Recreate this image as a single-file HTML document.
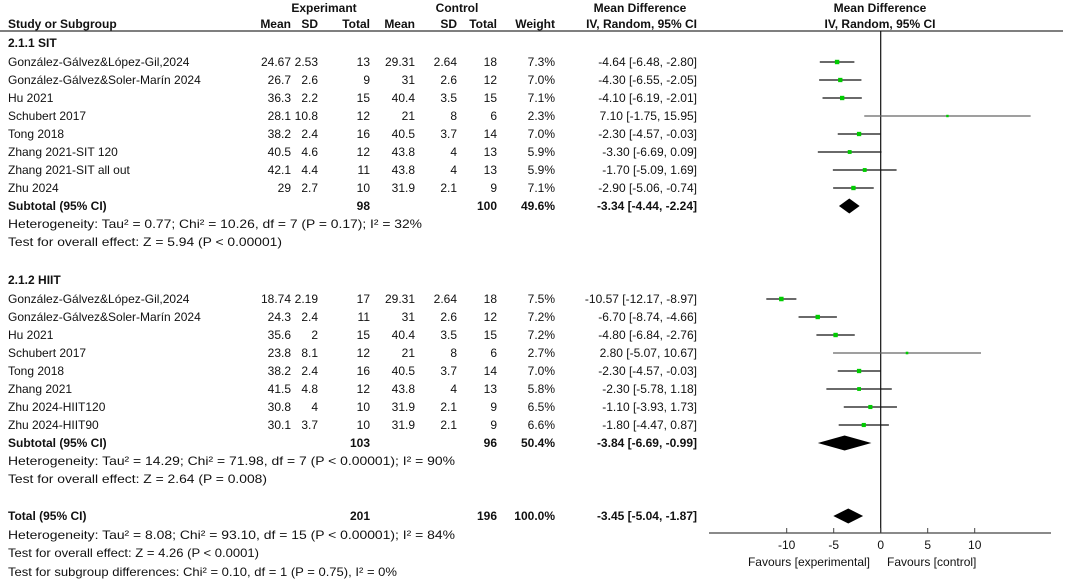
<!DOCTYPE html>
<html><head><meta charset="utf-8"><style>
html,body{margin:0;padding:0;background:#fff}
svg{display:block;font-family:"Liberation Sans",Arial,sans-serif;font-size:12px;fill:#111}
.b{font-weight:bold}
</style></head><body>
<svg id="c" width="1065" height="582" viewBox="0 0 1065 582"></svg>
<script>
const studies1=["González-Gálvez&López-Gil,2024","González-Gálvez&Soler-Marín 2024","Hu 2021","Schubert 2017","Tong 2018","Zhang 2021-SIT 120","Zhang 2021-SIT all out","Zhu 2024"];
const eMean1=["24.67","26.7","36.3","28.1","38.2","40.5","42.1","29"];
const eSD1=["2.53","2.6","2.2","10.8","2.4","4.6","4.4","2.7"];
const eN1=[13,9,15,12,16,12,11,10];
const cMean1=["29.31","31","40.4","21","40.5","43.8","43.8","31.9"];
const cSD1=["2.64","2.6","3.5","8","3.7","4","4","2.1"];
const cN1=[18,12,15,6,14,13,13,9];
const w1=[7.3,7.0,7.1,2.3,7.0,5.9,5.9,7.1];
const md1=[-4.64,-4.30,-4.10,7.10,-2.30,-3.30,-1.70,-2.90];
const lo1=[-6.48,-6.55,-6.19,-1.75,-4.57,-6.69,-5.09,-5.06];
const hi1=[-2.80,-2.05,-2.01,15.95,-0.03,0.09,1.69,-0.74];
const studies2=["González-Gálvez&López-Gil,2024","González-Gálvez&Soler-Marín 2024","Hu 2021","Schubert 2017","Tong 2018","Zhang 2021","Zhu 2024-HIIT120","Zhu 2024-HIIT90"];
const eMean2=["18.74","24.3","35.6","23.8","38.2","41.5","30.8","30.1"];
const eSD2=["2.19","2.4","2","8.1","2.4","4.8","4","3.7"];
const eN2=[17,11,15,12,16,12,10,10];
const cMean2=["29.31","31","40.4","21","40.5","43.8","31.9","31.9"];
const cSD2=["2.64","2.6","3.5","8","3.7","4","2.1","2.1"];
const cN2=[18,12,15,6,14,13,9,9];
const w2=[7.5,7.2,7.2,2.7,7.0,5.8,6.5,6.6];
const md2=[-10.57,-6.70,-4.80,2.80,-2.30,-2.30,-1.10,-1.80];
const lo2=[-12.17,-8.74,-6.84,-5.07,-4.57,-5.78,-3.93,-4.47];
const hi2=[-8.97,-4.66,-2.76,10.67,-0.03,1.18,1.73,0.87];
const subMD=[-3.34,-3.84], subLo=[-4.44,-6.69], subHi=[-2.24,-0.99];
const subW=["49.6%","50.4%"];
const totMD=-3.45, totLo=-5.04, totHi=-1.87;
const ticks=[-10,-5,0,5,10];

const NS="http://www.w3.org/2000/svg";
const svg=document.getElementById('c');
const X=v=>880.7+v*9.4;
function el(t,a,txt){const e=document.createElementNS(NS,t);for(const k in a)e.setAttribute(k,a[k]);if(txt!==undefined)e.textContent=txt;svg.appendChild(e);return e;}
function tx(x,y,s,anchor,cls,name,len){const a={x:x,y:y+4,'text-anchor':anchor||'start'};if(cls)a['class']=cls;if(len){a.textLength=len;a.lengthAdjust='spacingAndGlyphs';}const e=el('text',a,s);


return e;}
const colR=[291,318,370,415,457,497,555,697];
tx(324,8,"Experimant","middle","b","experimental-header");
tx(457,8,"Control","middle","b","control-header");
tx(640,8,"Mean Difference","middle","b","md-header");
tx(880,8,"Mean Difference","middle","b","plot-md-header");
tx(8,24,"Study or Subgroup","start","b","study-header");
["Mean","SD","Total","Mean","SD","Total","Weight","IV, Random, 95% CI"].forEach((h,i)=>tx(colR[i],24,h,"end","b","col-header"));
tx(880,24,"IV, Random, 95% CI","middle","b","plot-ci-header");
let l=el('line',{x1:0,y1:31,x2:1063,y2:31,stroke:'#333','stroke-width':1.2});


l=el('line',{x1:X(0),y1:31,x2:X(0),y2:533,stroke:'#111','stroke-width':1.2});


function fmt(v){return v.toFixed(2);}
function group(y0,title,S,em,es,en,cm,cs,cn,w,md,lo,hi,g){
  tx(8,y0,title,"start","b","subgroup-title");
  S.forEach((s,i)=>{
    const y=y0+19+i*18;
    tx(8,y,s,"start",null,"study-name");
    [em[i],es[i],en[i],cm[i],cs[i],cn[i],w[i].toFixed(1)+"%",fmt(md[i])+" ["+fmt(lo[i])+", "+fmt(hi[i])+"]"].forEach((v,j)=>tx(colR[j],y,String(v),"end",null,"study-value"));
    const ci=el('line',{x1:X(lo[i]),y1:y,x2:X(hi[i]),y2:y,stroke:w[i]<4?'#666':'#111','stroke-width':1.3});
    
    
    const sz=1.5+w[i]*0.4;
    const sq=el('rect',{x:X(md[i])-sz/2,y:y-sz/2,width:sz,height:sz,fill:'#0c0'});
    
    
  });
  const ys=y0+19+8*18;
  tx(8,ys,"Subtotal (95% CI)","start","b","subtotal-label");
  tx(370,ys,String(en.reduce((a,b)=>a+b,0)),"end","b","subtotal-n");
  tx(497,ys,String(cn.reduce((a,b)=>a+b,0)),"end","b","subtotal-n");
  tx(555,ys,subW[g],"end","b","subtotal-weight");
  tx(697,ys,fmt(subMD[g])+" ["+fmt(subLo[g])+", "+fmt(subHi[g])+"]","end","b","subtotal-ci");
  const d=el('polygon',{points:`${X(subLo[g])},${ys} ${X(subMD[g])},${ys-7.5} ${X(subHi[g])},${ys} ${X(subMD[g])},${ys+7.5}`,fill:'#000'});
  
  
  return ys;
}
let ys=group(43,"2.1.1 SIT",studies1,eMean1,eSD1,eN1,cMean1,cSD1,cN1,w1,md1,lo1,hi1,0);
tx(8,ys+18,"Heterogeneity: Tau² = 0.77; Chi² = 10.26, df = 7 (P = 0.17); I² = 32%","start",null,"heterogeneity-sit",414);
tx(8,ys+36,"Test for overall effect: Z = 5.94 (P < 0.00001)","start",null,"overall-effect-sit",274);
ys=group(280,"2.1.2 HIIT",studies2,eMean2,eSD2,eN2,cMean2,cSD2,cN2,w2,md2,lo2,hi2,1);
tx(8,ys+18,"Heterogeneity: Tau² = 14.29; Chi² = 71.98, df = 7 (P < 0.00001); I² = 90%","start",null,"heterogeneity-hiit",447);
tx(8,ys+36,"Test for overall effect: Z = 2.64 (P = 0.008)","start",null,"overall-effect-hiit",259);
const yt=516;
tx(8,yt,"Total (95% CI)","start","b","total-label");
tx(370,yt,"201","end","b","total-n-exp");
tx(497,yt,"196","end","b","total-n-ctrl");
tx(555,yt,"100.0%","end","b","total-weight");
tx(697,yt,fmt(totMD)+" ["+fmt(totLo)+", "+fmt(totHi)+"]","end","b","total-ci");
let d=el('polygon',{points:`${X(totLo)},${yt} ${X(totMD)},${yt-7.5} ${X(totHi)},${yt} ${X(totMD)},${yt+7.5}`,fill:'#000'});


tx(8,535,"Heterogeneity: Tau² = 8.08; Chi² = 93.10, df = 15 (P < 0.00001); I² = 84%","start",null,"heterogeneity-total",447);
tx(8,553,"Test for overall effect: Z = 4.26 (P < 0.0001)","start",null,"overall-effect-total",251);
tx(8,572,"Test for subgroup differences: Chi² = 0.10, df = 1 (P = 0.75), I² = 0%","start",null,"subgroup-differences",389);
l=el('line',{x1:709,y1:533,x2:1051,y2:533,stroke:'#444','stroke-width':1.2});


ticks.forEach(t=>{
  const k=el('line',{x1:X(t),y1:528,x2:X(t),y2:533,stroke:'#444'});
  
  
  tx(X(t),545,String(t),"middle",null,"x-tick-label");
});
tx(870,562,"Favours [experimental]","end",null,"favours-experimental");
tx(887,562,"Favours [control]","start",null,"favours-control");
</script>
</body></html>
